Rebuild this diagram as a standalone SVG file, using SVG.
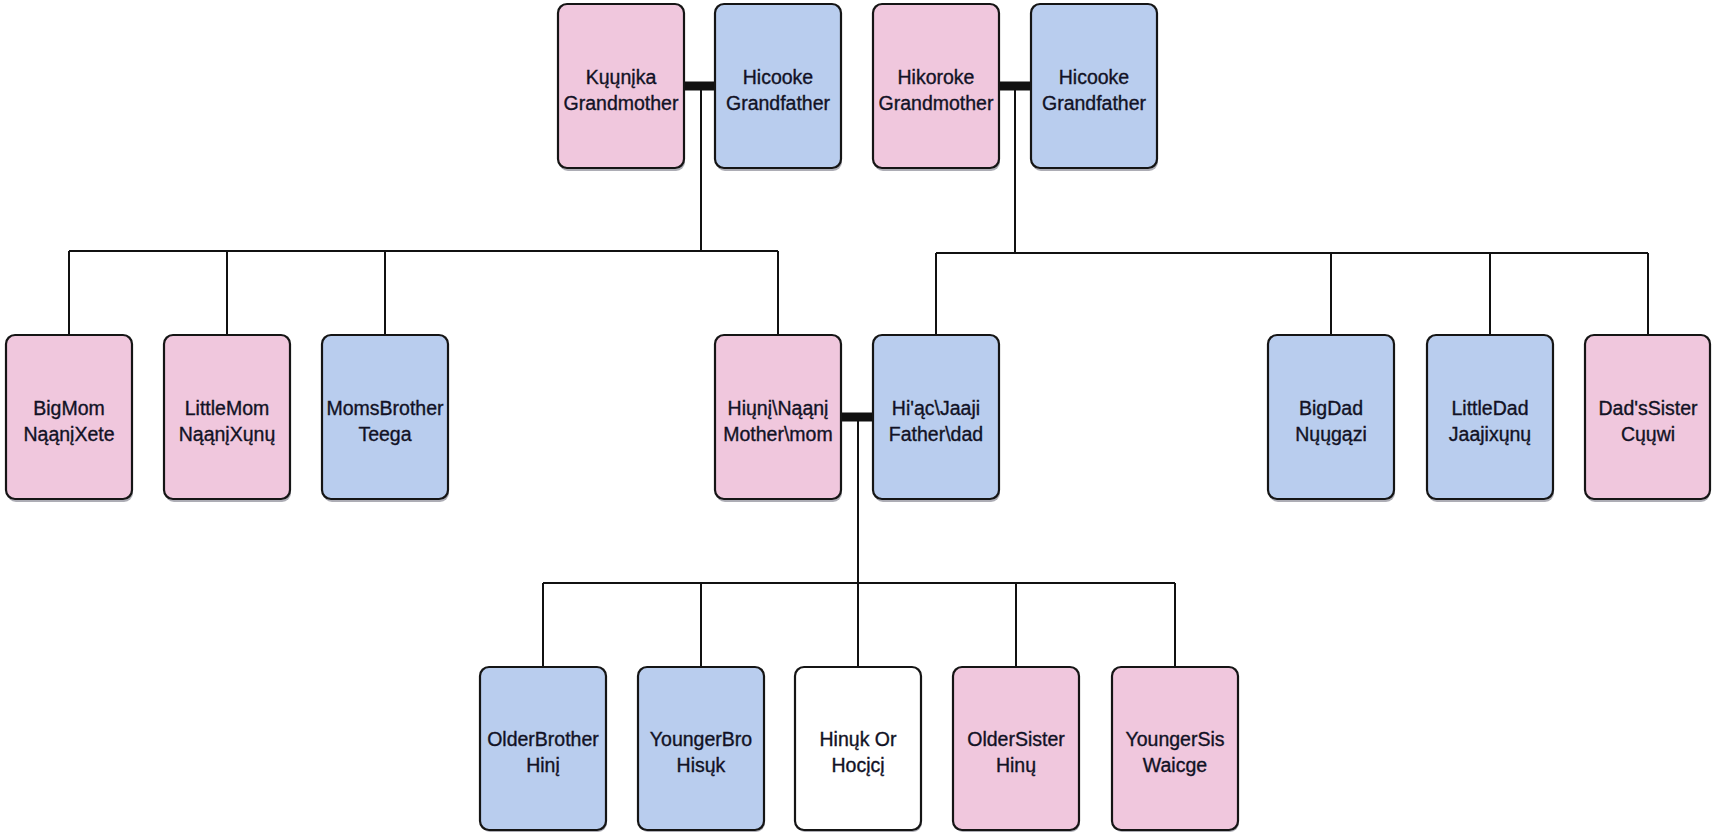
<svg xmlns="http://www.w3.org/2000/svg" width="1712" height="833" viewBox="0 0 1712 833">
<style>
.box{stroke:#151515;stroke-width:2.2}
.f{fill:#F0C7DD}
.m{fill:#B9CDEE}
.u{fill:#FFFFFF}
.sh{fill:#6a6a78;opacity:0.55}
text{font-family:"Liberation Sans",Arial,sans-serif;font-size:19.5px;fill:#121225;stroke:#121225;stroke-width:0.35;text-anchor:middle}
.ln{stroke:#111;stroke-width:2;fill:none}
.mar{stroke:#111;stroke-width:9;fill:none}
</style>
<rect width="1712" height="833" fill="#ffffff"/>
<g id="connectors">
<line class="mar" x1="684" y1="86" x2="715" y2="86"/>
<polyline class="ln" points="701,86 701,251"/>
<line class="ln" x1="69" y1="251" x2="778" y2="251"/>
<line class="ln" x1="69" y1="251" x2="69" y2="335"/>
<line class="ln" x1="227" y1="251" x2="227" y2="335"/>
<line class="ln" x1="385" y1="251" x2="385" y2="335"/>
<line class="ln" x1="778" y1="251" x2="778" y2="335"/>
<line class="mar" x1="999" y1="86" x2="1031" y2="86"/>
<polyline class="ln" points="1015,86 1015,253"/>
<line class="ln" x1="936" y1="253" x2="1648" y2="253"/>
<line class="ln" x1="936" y1="253" x2="936" y2="335"/>
<line class="ln" x1="1331" y1="253" x2="1331" y2="335"/>
<line class="ln" x1="1490" y1="253" x2="1490" y2="335"/>
<line class="ln" x1="1648" y1="253" x2="1648" y2="335"/>
<line class="mar" x1="841" y1="417" x2="873" y2="417"/>
<polyline class="ln" points="858,417 858,667"/>
<line class="ln" x1="543" y1="583" x2="1175" y2="583"/>
<line class="ln" x1="543" y1="583" x2="543" y2="667"/>
<line class="ln" x1="701" y1="583" x2="701" y2="667"/>
<line class="ln" x1="1016" y1="583" x2="1016" y2="667"/>
<line class="ln" x1="1175" y1="583" x2="1175" y2="667"/>
</g>
<g id="n-kuunika"><rect class="sh" x="559" y="7" width="126" height="164" rx="9"/><rect class="box f" x="558" y="4" width="126" height="164" rx="9"/><text x="621" y="84">Kųųnįka</text><text x="621" y="110">Grandmother</text></g>
<g id="n-hicooke1"><rect class="sh" x="716" y="7" width="126" height="164" rx="9"/><rect class="box m" x="715" y="4" width="126" height="164" rx="9"/><text x="778" y="84">Hicooke</text><text x="778" y="110">Grandfather</text></g>
<g id="n-hikoroke"><rect class="sh" x="874" y="7" width="126" height="164" rx="9"/><rect class="box f" x="873" y="4" width="126" height="164" rx="9"/><text x="936" y="84">Hikoroke</text><text x="936" y="110">Grandmother</text></g>
<g id="n-hicooke2"><rect class="sh" x="1032" y="7" width="126" height="164" rx="9"/><rect class="box m" x="1031" y="4" width="126" height="164" rx="9"/><text x="1094" y="84">Hicooke</text><text x="1094" y="110">Grandfather</text></g>

<g id="n-bigmom"><rect class="sh" x="7" y="338" width="126" height="164" rx="9"/><rect class="box f" x="6" y="335" width="126" height="164" rx="9"/><text x="69" y="415">BigMom</text><text x="69" y="441">NąąnįXete</text></g>
<g id="n-littlemom"><rect class="sh" x="165" y="338" width="126" height="164" rx="9"/><rect class="box f" x="164" y="335" width="126" height="164" rx="9"/><text x="227" y="415">LittleMom</text><text x="227" y="441">NąąnįXųnų</text></g>
<g id="n-momsbrother"><rect class="sh" x="323" y="338" width="126" height="164" rx="9"/><rect class="box m" x="322" y="335" width="126" height="164" rx="9"/><text x="385" y="415">MomsBrother</text><text x="385" y="441">Teega</text></g>
<g id="n-mother"><rect class="sh" x="716" y="338" width="126" height="164" rx="9"/><rect class="box f" x="715" y="335" width="126" height="164" rx="9"/><text x="778" y="415">Hiųnį\Nąąnį</text><text x="778" y="441">Mother\mom</text></g>
<g id="n-father"><rect class="sh" x="874" y="338" width="126" height="164" rx="9"/><rect class="box m" x="873" y="335" width="126" height="164" rx="9"/><text x="936" y="415">Hi'ąc\Jaaji</text><text x="936" y="441">Father\dad</text></g>
<g id="n-bigdad"><rect class="sh" x="1269" y="338" width="126" height="164" rx="9"/><rect class="box m" x="1268" y="335" width="126" height="164" rx="9"/><text x="1331" y="415">BigDad</text><text x="1331" y="441">Nųųgązi</text></g>
<g id="n-littledad"><rect class="sh" x="1428" y="338" width="126" height="164" rx="9"/><rect class="box m" x="1427" y="335" width="126" height="164" rx="9"/><text x="1490" y="415">LittleDad</text><text x="1490" y="441">Jaajixųnų</text></g>
<g id="n-dadssister"><rect class="sh" x="1586" y="338" width="124" height="164" rx="9"/><rect class="box f" x="1585" y="335" width="125" height="164" rx="9"/><text x="1648" y="415">Dad'sSister</text><text x="1648" y="441">Cųųwi</text></g>

<g id="n-olderbrother"><rect class="sh" x="481" y="670" width="126" height="162" rx="9"/><rect class="box m" x="480" y="667" width="126" height="163" rx="9"/><text x="543" y="746">OlderBrother</text><text x="543" y="772">Hinį</text></g>
<g id="n-youngerbro"><rect class="sh" x="639" y="670" width="126" height="162" rx="9"/><rect class="box m" x="638" y="667" width="126" height="163" rx="9"/><text x="701" y="746">YoungerBro</text><text x="701" y="772">Hisųk</text></g>
<g id="n-hinuk"><rect class="sh" x="796" y="670" width="126" height="162" rx="9"/><rect class="box u" x="795" y="667" width="126" height="163" rx="9"/><text x="858" y="746">Hinųk Or</text><text x="858" y="772">Hocįcį</text></g>
<g id="n-oldersister"><rect class="sh" x="954" y="670" width="126" height="162" rx="9"/><rect class="box f" x="953" y="667" width="126" height="163" rx="9"/><text x="1016" y="746">OlderSister</text><text x="1016" y="772">Hinų</text></g>
<g id="n-youngersis"><rect class="sh" x="1113" y="670" width="126" height="162" rx="9"/><rect class="box f" x="1112" y="667" width="126" height="163" rx="9"/><text x="1175" y="746">YoungerSis</text><text x="1175" y="772">Waicge</text></g>
</svg>
